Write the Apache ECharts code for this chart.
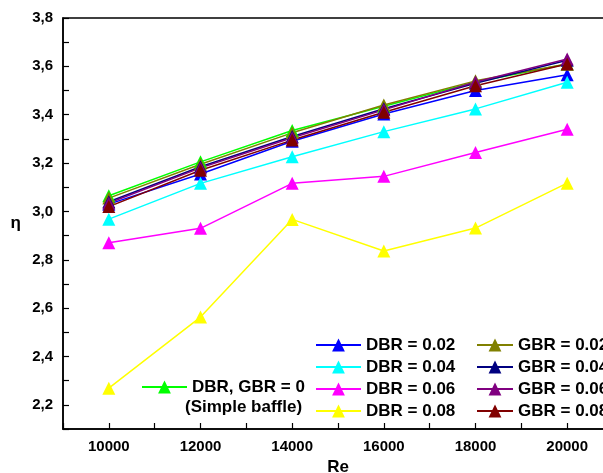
<!DOCTYPE html>
<html><head><meta charset="utf-8">
<script src="https://cdn.jsdelivr.net/npm/echarts@6/dist/echarts.min.js"></script>
<style>html,body{margin:0;padding:0;background:#fff}#c{width:603px;height:473px}</style>
</head><body><div id="c"></div>
<script>
const re = [10000, 12000, 14000, 16000, 18000, 20000];
const simple = [3.065, 3.205, 3.335, 3.435, 3.535, 3.61];
const dbr002 = [3.03, 3.155, 3.29, 3.403, 3.5, 3.565];
const dbr004 = [2.968, 3.116, 3.226, 3.33, 3.424, 3.534];
const dbr006 = [2.87, 2.93, 3.116, 3.145, 3.244, 3.34];
const dbr008 = [2.269, 2.563, 2.967, 2.836, 2.931, 3.117];
const gbr002 = [3.055, 3.195, 3.325, 3.44, 3.54, 3.61];
const gbr004 = [3.04, 3.185, 3.31, 3.425, 3.53, 3.625];
const gbr006 = [3.035, 3.18, 3.305, 3.42, 3.535, 3.63];
const gbr008 = [3.02, 3.17, 3.295, 3.41, 3.52, 3.61];

const names = {
  simple: 'DBR, GBR = 0',
  d2: 'DBR = 0.02', d4: 'DBR = 0.04', d6: 'DBR = 0.06', d8: 'DBR = 0.08',
  g2: 'GBR = 0.02', g4: 'GBR = 0.04', g6: 'GBR = 0.06', g8: 'GBR = 0.08'
};
const subLabel = '(Simple baffle)';

function mk(name, vals, color) {
  return {
    name: name, type: 'line',
    data: re.map((x, i) => [x, vals[i]]),
    symbol: 'triangle', symbolSize: 13,
    lineStyle: { color: color, width: 1.5 },
    itemStyle: { color: color },
    color: color
  };
}
const font = 'Arial, "Liberation Sans", sans-serif';
const legendText = { fontSize: 17, fontWeight: 'bold', color: '#000', fontFamily: font, lineHeight: 20 };

const chart = echarts.init(document.getElementById('c'));
chart.setOption({
  animation: false,
  backgroundColor: '#fff',
  grid: { left: 63, top: 18, bottom: 44, right: -10, containLabel: false, outerBoundsMode: 'none', show: true, borderColor: '#000', borderWidth: 1.5, backgroundColor: 'transparent' },
  xAxis: {
    type: 'value', min: 9000, max: 21000, interval: 1000,
    name: 'Re', nameLocation: 'middle', nameGap: 28,
    nameTextStyle: { fontSize: 17, fontWeight: 'bold', color: '#000', fontFamily: font },
    axisLine: { show: true, lineStyle: { color: '#000', width: 1.5 } },
    axisTick: { show: true, inside: true, length: 6, lineStyle: { color: '#000', width: 1.2 } },
    splitLine: { show: false },
    axisLabel: {
      fontSize: 15, fontWeight: 'bold', color: '#000', fontFamily: font, margin: 10,
      formatter: v => (Math.round(v / 1000) % 2 === 0 ? String(v) : '')
    }
  },
  yAxis: {
    type: 'value', min: 2.1, max: 3.8, interval: 0.1,
    name: 'η', nameLocation: 'middle', nameGap: 42, nameRotate: 0,
    nameTextStyle: { fontSize: 17, fontWeight: 'bold', color: '#000', fontFamily: font, padding: [8, 0, 0, 0] },
    axisLine: { show: true, lineStyle: { color: '#000', width: 1.5 } },
    axisTick: { show: true, inside: true, length: 6, lineStyle: { color: '#000', width: 1.2 } },
    splitLine: { show: false },
    axisLabel: {
      fontSize: 15, fontWeight: 'bold', color: '#000', fontFamily: font, margin: 10,
      formatter: v => (Math.round(v * 10) % 2 === 0 ? v.toFixed(1).replace('.', ',') : '')
    }
  },
  legend: [
    { data: [names.simple], left: 141, top: 377, orient: 'vertical', padding: 0, itemWidth: 45, itemHeight: 16, textStyle: legendText, selectedMode: false },
    { data: [names.d2, names.d4, names.d6, names.d8], left: 315, top: 335, orient: 'vertical', padding: 0, itemGap: 2, itemWidth: 45, itemHeight: 16, textStyle: legendText, selectedMode: false },
    { data: [names.g2, names.g4, names.g6, names.g8], left: 476, top: 335, orient: 'vertical', padding: 0, itemGap: 2, itemWidth: 36, itemHeight: 16, textStyle: legendText, selectedMode: false }
  ],
  graphic: [
    { type: 'text', left: 185, top: 399, style: { text: subLabel, fontSize: 17, fontWeight: 'bold', fill: '#000', fontFamily: font } }
  ],
  series: [
    mk(names.simple, simple, '#00ff00'),
    mk(names.d2, dbr002, '#0000ff'),
    mk(names.d4, dbr004, '#00ffff'),
    mk(names.d6, dbr006, '#ff00ff'),
    mk(names.d8, dbr008, '#ffff00'),
    mk(names.g2, gbr002, '#808000'),
    mk(names.g4, gbr004, '#000080'),
    mk(names.g6, gbr006, '#800080'),
    mk(names.g8, gbr008, '#800000')
  ]
});
</script></body></html>
